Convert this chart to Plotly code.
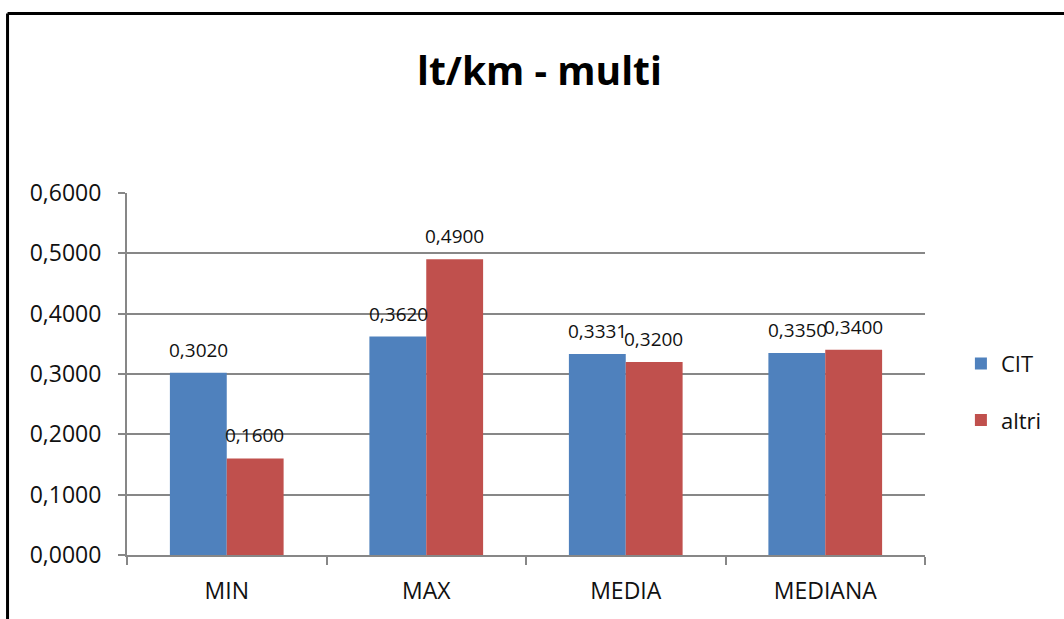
import plotly.graph_objects as go

categories = ["MIN", "MAX", "MEDIA", "MEDIANA"]
cit_values = [0.3020, 0.3620, 0.3331, 0.3350]
altri_values = [0.1600, 0.4900, 0.3200, 0.3400]
series_names = ["CIT", "altri"]
y_ticks = [0.0, 0.1, 0.2, 0.3, 0.4, 0.5, 0.6]
title_text = "lt/km - multi"

BLUE = "#4F81BD"
RED = "#C0504D"
GRID = "#878787"
FONT = "Open Sans, Lato, sans-serif"

fig = go.Figure()
fig.add_trace(go.Bar(x=categories, y=cit_values, name=series_names[0],
                     marker=dict(color=BLUE, line=dict(width=0)),
                     legendgroup="a"))
fig.add_trace(go.Bar(x=categories, y=altri_values, name=series_names[1],
                     marker=dict(color=RED, line=dict(width=0)),
                     legendgroup="b"))

def fmt(v):
    return f"{v:.4f}".replace(".", ",")

annotations = []
for vals, shift in ((cit_values, -28), (altri_values, 28)):
    for c, v in zip(categories, vals):
        annotations.append(dict(x=c, y=v, xref="x", yref="y", text=fmt(v),
                                showarrow=False, xshift=shift, yshift=23,
                                yanchor="middle", xanchor="center",
                                font=dict(family=FONT, size=19, color="#111")))

fig.update_layout(
    width=1064, height=619,
    margin=dict(l=127, r=139, t=193, b=64),
    paper_bgcolor="white", plot_bgcolor="white",
    separators=",.",
    barmode="group", bargap=0.43, bargroupgap=0,
    title=dict(text="<b>" + title_text + "</b>", x=0.507, xanchor="center",
               y=1 - 71 / 619, yanchor="middle", yref="container",
               font=dict(family=FONT, size=39, color="#000")),
    font=dict(family=FONT, color="#111"),
    legend=dict(x=1.045, xanchor="left", y=0.45, yanchor="middle",
                font=dict(family=FONT, size=22, color="#111"),
                tracegroupgap=25, itemwidth=30, bgcolor="rgba(0,0,0,0)"),
    xaxis=dict(type="category", showgrid=False, tickson="boundaries",
               ticks="outside", ticklen=8, tickwidth=2, tickcolor=GRID,
               showline=True, linecolor=GRID, linewidth=2,
               tickfont=dict(family=FONT, size=23, color="#111"),
               ticklabelstandoff=14, fixedrange=True),
    yaxis=dict(range=[0, 0.6], tickvals=y_ticks, tickformat=".4f",
               showgrid=True, gridcolor=GRID, gridwidth=2,
               zeroline=False, showline=True, linecolor=GRID, linewidth=2,
               ticks="outside", ticklen=7, tickwidth=2, tickcolor=GRID,
               tickfont=dict(family=FONT, size=23, color="#111"),
               ticklabelstandoff=12, fixedrange=True),
    annotations=annotations,
    shapes=[
        dict(type="line", xref="paper", yref="paper", x0=-0.1497, x1=1.3,
             y0=(555 - 13.5) / 362, y1=(555 - 13.5) / 362,
             line=dict(color="black", width=3)),
        dict(type="line", xref="paper", yref="paper", x0=-0.1497, x1=-0.1497,
             y0=(555 - 13.5) / 362, y1=-0.3,
             line=dict(color="black", width=3)),
    ],
)

fig.write_html("out.html", config={"displayModeBar": False})
